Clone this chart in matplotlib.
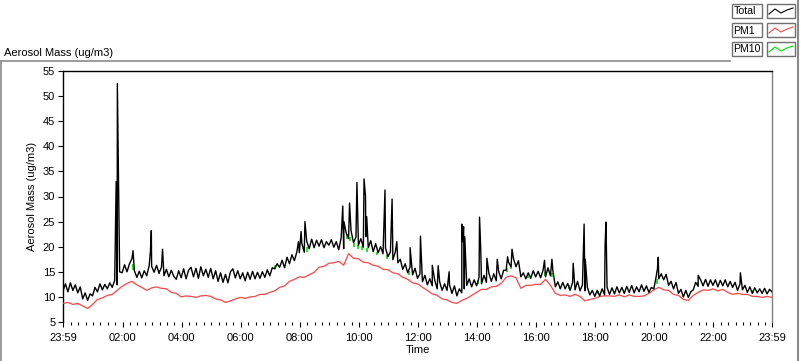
import numpy as np
import matplotlib
matplotlib.use("Agg")
import matplotlib.pyplot as plt
from matplotlib.lines import Line2D
from matplotlib.patches import Rectangle

plt.rcParams['font.family'] = ['Liberation Sans', 'DejaVu Sans']

# ---------------- data (hours since 23:59) ----------------
# Total aerosol mass, 5-minute samples (12 per hour) + final sample
total_rows = [
    [11.2, 12.6, 11.0, 12.8, 11.3, 12.4, 10.8, 12.0, 9.6, 10.8, 9.3, 10.6],
    [10.2, 11.9, 11.0, 12.6, 11.4, 12.5, 11.6, 12.8, 11.9, 13.3, 12.4, 15.0],
    [14.8, 16.4, 15.0, 16.6, 17.6, 15.2, 13.9, 15.1, 13.8, 15.2, 14.2, 16.2],
    [16.1, 14.9, 16.3, 14.7, 15.9, 14.2, 15.5, 14.0, 15.3, 14.1, 13.5, 15.2],
    [13.8, 15.6, 13.6, 15.3, 15.9, 14.0, 15.7, 13.7, 16.0, 14.2, 15.5, 13.9],
    [15.7, 13.6, 15.2, 13.1, 14.8, 12.9, 14.5, 12.8, 15.0, 15.6, 13.8, 15.2],
    [13.6, 14.8, 13.2, 14.9, 13.5, 15.1, 13.6, 14.9, 13.7, 15.0, 13.9, 15.4],
    [14.2, 15.8, 15.6, 16.6, 15.9, 17.3, 15.8, 17.9, 16.6, 18.4, 17.2, 19.0],
    [18.8, 20.7, 18.9, 21.1, 19.6, 21.5, 19.8, 21.3, 20.1, 21.4, 19.8, 21.0],
    [20.3, 21.4, 19.9, 21.0, 19.4, 21.8, 19.6, 22.8, 21.6, 23.2, 20.8, 21.9],
    [20.3, 21.6, 19.9, 22.0, 19.8, 21.2, 19.0, 20.6, 18.8, 20.0, 18.6, 19.7],
    [18.0, 19.0, 17.4, 19.0, 16.8, 17.5, 15.5, 16.6, 14.8, 16.0, 14.4, 15.7],
    [13.7, 14.6, 13.0, 14.3, 12.4, 13.6, 12.2, 13.3, 11.6, 13.0, 11.3, 12.6],
    [11.3, 12.4, 10.7, 12.2, 10.2, 11.6, 10.8, 11.6, 12.3, 13.6, 12.0, 13.4],
    [12.2, 13.9, 12.6, 14.3, 12.9, 14.7, 13.1, 14.6, 13.2, 15.0, 13.6, 15.3],
    [15.3, 16.9, 16.0, 17.6, 16.0, 17.2, 14.0, 14.8, 13.6, 14.8, 13.7, 15.2],
    [14.0, 15.1, 13.8, 15.3, 14.0, 15.8, 14.2, 15.2, 12.0, 13.0, 11.6, 12.9],
    [11.6, 12.7, 11.3, 12.9, 11.4, 13.1, 11.2, 12.4, 11.2, 11.9, 10.4, 11.3],
    [10.1, 11.3, 10.2, 11.6, 10.4, 11.9, 10.5, 11.8, 10.6, 12.0, 10.8, 11.9],
    [10.7, 12.1, 10.9, 12.3, 10.8, 12.0, 11.0, 12.4, 11.1, 12.2, 10.9, 11.9],
    [11.6, 14.2, 13.6, 14.6, 13.4, 14.5, 12.3, 13.1, 11.6, 12.9, 10.7, 11.5],
    [10.0, 11.3, 9.9, 11.0, 11.4, 12.9, 12.1, 13.4, 12.2, 13.5, 12.1, 13.4],
    [12.3, 13.4, 12.0, 13.3, 12.2, 13.4, 12.0, 13.1, 11.9, 12.9, 11.3, 12.6],
    [11.4, 12.3, 10.9, 12.0, 10.7, 11.8, 10.8, 11.6, 10.7, 11.7, 10.6, 11.5],
]
total_last = 11.0

# Short spikes in the Total trace
spike_hours = [1.80, 1.84, 2.37, 2.96, 2.99, 3.37, 7.97, 8.06, 8.19, 9.47, 9.51,
               9.70, 9.95, 10.19, 10.24, 10.28, 10.90, 11.14, 11.30, 11.75, 12.10,
               12.50, 12.70, 13.07, 13.50, 13.53, 13.56, 13.60, 14.10, 14.14, 14.35,
               14.70, 15.05, 15.20, 16.30, 16.55, 17.27, 17.64, 17.68, 18.35, 18.38,
               20.12, 20.15, 21.50, 22.93]
spike_values = [33.0, 52.5, 19.2, 19.2, 23.2, 19.5, 21.0, 23.0, 25.0, 28.1, 25.0,
                28.7, 32.8, 33.5, 30.0, 26.0, 31.3, 29.5, 21.0, 19.8, 22.1,
                16.3, 16.2, 15.0, 24.5, 21.0, 24.0, 22.0, 25.9, 19.6, 17.7,
                17.5, 18.0, 19.5, 17.3, 17.5, 16.7, 24.5, 17.5, 20.3, 24.9,
                15.5, 17.9, 14.3, 14.8]

# PM1, 10-minute samples (6 per hour) + final sample
pm1_rows = [
    [8.7, 8.9, 8.5, 8.7, 8.2, 7.7],
    [8.5, 9.5, 9.8, 10.3, 10.5, 11.3],
    [12.1, 12.7, 13.1, 12.4, 11.9, 11.3],
    [11.8, 12.0, 11.7, 11.6, 10.9, 10.7],
    [10.0, 10.2, 10.1, 9.9, 10.2, 10.3],
    [10.1, 9.6, 9.4, 8.9, 9.2, 9.6],
    [9.9, 9.7, 10.0, 10.1, 10.5, 10.5],
    [10.9, 11.2, 11.9, 12.2, 13.1, 13.5],
    [14.0, 13.9, 14.4, 14.9, 15.9, 16.1],
    [16.7, 16.8, 17.1, 16.3, 18.6, 17.7],
    [17.6, 16.9, 16.8, 16.3, 16.1, 15.5],
    [15.4, 14.8, 14.6, 13.9, 13.5, 12.8],
    [12.6, 11.9, 11.3, 10.6, 10.3, 9.6],
    [9.4, 8.9, 8.7, 9.3, 9.7, 10.3],
    [10.9, 11.5, 11.5, 12.0, 12.1, 12.7],
    [13.9, 14.2, 13.8, 11.7, 12.3, 12.3],
    [12.5, 12.5, 13.5, 12.3, 10.7, 10.3],
    [10.4, 10.1, 10.5, 10.1, 9.2, 9.5],
    [9.7, 10.1, 10.2, 10.2, 10.1, 10.4],
    [10.0, 10.4, 10.1, 10.1, 10.2, 10.7],
    [11.4, 11.9, 11.4, 11.3, 10.5, 10.3],
    [9.5, 9.3, 10.3, 10.9, 11.4, 11.3],
    [11.6, 11.2, 11.5, 10.9, 10.5, 10.7],
    [10.5, 10.5, 10.1, 10.1, 9.9, 10.1],
]
pm1_last = 9.9

# PM10 nearly coincides with Total; places where it shows beside the Total trace
pm10_hours = [2.37, 3.25, 7.18, 8.26, 9.60, 9.71, 9.85, 9.99, 10.12, 10.30, 10.63,
              10.97, 11.70, 12.50, 13.17, 14.05, 15.03, 15.17, 15.74, 16.32, 16.55,
              17.13, 18.11, 20.11, 21.50, 23.36]
pm10_low = [15.4, 14.6, 15.6, 19.0, 21.6, 21.2, 20.0, 19.6, 19.4, 18.9, 18.3,
            17.6, 14.4, 12.3, 10.7, 12.6, 15.0, 15.6, 13.8, 14.2, 14.0,
            11.6, 10.6, 12.5, 12.2, 10.8]
pm10_high = [16.6, 15.3, 16.4, 20.0, 22.5, 22.0, 20.8, 20.3, 20.2, 19.7, 19.0,
             18.4, 15.2, 13.0, 11.3, 13.4, 15.8, 16.3, 14.5, 15.0, 14.8,
             12.4, 11.1, 13.6, 12.9, 11.3]

tick_labels = ["23:59", "02:00", "04:00", "06:00", "08:00", "10:00", "12:00",
               "14:00", "16:00", "18:00", "20:00", "22:00", "23:59"]
y_ticks = [5, 10, 15, 20, 25, 30, 35, 40, 45, 50, 55]

# ---------------- assemble series ----------------
total_base = np.array([v for r in total_rows for v in r] + [total_last])
total_t = np.arange(len(total_base)) * 5 / 60
t_all = np.concatenate([total_t, spike_hours])
v_all = np.concatenate([total_base, spike_values])
order = np.argsort(t_all, kind="stable")
t_all, v_all = t_all[order], v_all[order]

pm1 = np.array([v for r in pm1_rows for v in r] + [pm1_last])
pm1_t = np.arange(len(pm1)) * 10 / 60

# ---------------- figure ----------------
W, H = 800, 361
fig = plt.figure(figsize=(W / 100, H / 100), dpi=100)
fig.patch.set_facecolor("white")

def fx(px):
    return px / W

def fy(py):
    return 1 - py / H

L, R, T, B = 63, 772, 71, 322
ax = fig.add_axes([fx(L), fy(B), fx(R) - fx(L), fy(T) - fy(B)])

ax.vlines(pm10_hours, pm10_low, pm10_high, colors="#00dd00", lw=1.2, zorder=2)
ax.plot(pm1_t, pm1, color="#ff4545", lw=0.9, zorder=3)
ax.plot(t_all, v_all, color="black", lw=1.0, zorder=4)

ax.set_xlim(0, 24)
ax.set_ylim(5, 55)

major = [0] + [2 * k + 1 / 60 for k in range(1, 12)] + [24]
ax.set_xticks(major)
ax.set_xticklabels(tick_labels)
minor = []
for k in range(-8, 90):
    m = 2 + 1 / 60 + 0.25 * k
    if 0.05 < m < 23.95 and min(abs(m - j) for j in major) > 0.05:
        minor.append(m)
ax.set_xticks(minor, minor=True)
ax.set_yticks(y_ticks)

ax.tick_params(axis="both", which="major", direction="out", length=3.6, width=0.8,
               labelsize=8, colors="black")
ax.tick_params(axis="x", which="major", pad=4)
ax.tick_params(axis="x", which="minor", direction="out", length=2.2, width=0.8)
ax.tick_params(axis="y", which="major", pad=2)

for s in ["top", "left"]:
    ax.spines[s].set_color("black")
    ax.spines[s].set_linewidth(1.0)
ax.spines["right"].set_color("#808080")
ax.spines["right"].set_linewidth(1.0)
ax.spines["bottom"].set_visible(False)

ax.set_ylabel("Aerosol Mass (ug/m3)", fontsize=8, labelpad=4)
ax.set_xlabel("Time", fontsize=8, labelpad=2)

# outer panel frame
frame_col = "#8a8a8a"
fig.add_artist(Line2D([fx(0.5), fx(730)], [fy(61), fy(61)], color=frame_col, lw=1.2))
fig.add_artist(Line2D([fx(0.5), fx(0.5)], [fy(61), fy(361)], color=frame_col, lw=1.2))
fig.add_artist(Line2D([fx(798), fx(798)], [fy(0), fy(361)], color=frame_col, lw=1.5))

fig.text(fx(4), fy(53), "Aerosol Mass (ug/m3)", fontsize=8, va="center", ha="left")

# legend (LabVIEW style plot legend)
leg_items = [("Total", "black"), ("PM1", "#ff4545"), ("PM10", "#00dd00")]
for i, (name, col) in enumerate(leg_items):
    y0 = 4 + i * 19
    fig.add_artist(Rectangle((fx(732), fy(y0 + 14)), fx(30), fy(0) - fy(14),
                             fill=False, edgecolor="#707070", lw=1.0))
    fig.add_artist(Rectangle((fx(767), fy(y0 + 14)), fx(28), fy(0) - fy(14),
                             fill=False, edgecolor="#707070", lw=1.0))
    fig.text(fx(733.5), fy(y0 + 7.5), name, fontsize=7.6, va="center", ha="left")
    zx = [769, 775, 781, 787, 793]
    zy = [y0 + 10, y0 + 5, y0 + 9, y0 + 6, y0 + 4]
    fig.add_artist(Line2D([fx(x) for x in zx], [fy(y) for y in zy], color=col, lw=0.8))

fig.savefig("out.png", dpi=100, facecolor="white")
